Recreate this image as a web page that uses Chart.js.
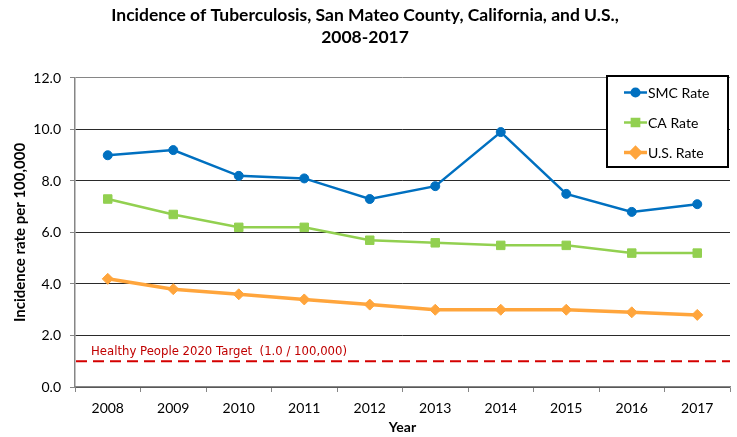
<!DOCTYPE html>
<html>
<head>
<meta charset="utf-8">
<script src="https://cdn.jsdelivr.net/npm/chart.js@4.4.0/dist/chart.umd.min.js"></script>
<style>
  html, body { margin: 0; padding: 0; background: #fff; }
</style>
</head>
<body>
<canvas id="tbChart" width="737" height="437"></canvas>
<script>
// Data
const years = ['2008', '2009', '2010', '2011', '2012', '2013', '2014', '2015', '2016', '2017'];
const smcRate = [9.0, 9.2, 8.2, 8.1, 7.3, 7.8, 9.9, 7.5, 6.8, 7.1];
const caRate = [7.3, 6.7, 6.2, 6.2, 5.7, 5.6, 5.5, 5.5, 5.2, 5.2];
const usRate = [4.2, 3.8, 3.6, 3.4, 3.2, 3.0, 3.0, 3.0, 2.9, 2.8];
const yTicks = [0, 2, 4, 6, 8, 10, 12];
const targetRate = 1.0;
const targetLabel = 'Healthy People 2020 Target  (1.0 / 100,000)';

const FONT = 'Lato, "Open Sans", sans-serif';

// Red dashed target line with its label
const targetLine = {
    id: 'targetLine',
    beforeDatasetsDraw(chart) {
        const { ctx, chartArea } = chart;
        const y = chart.scales.y.getPixelForValue(targetRate);
        ctx.save();
        ctx.strokeStyle = '#d40000';
        ctx.lineWidth = 2;
        ctx.setLineDash([11, 6]);
        ctx.beginPath();
        ctx.moveTo(chartArea.left + 1, y);
        ctx.lineTo(chartArea.right, y);
        ctx.stroke();
        ctx.setLineDash([]);
        ctx.fillStyle = '#c00000';
        ctx.font = '11.7px "DejaVu Sans", sans-serif';
        ctx.textBaseline = 'middle';
        ctx.fillText(targetLabel, chartArea.left + 16, y - 9);
        ctx.restore();
    }
};

// Boxed legend sitting inside the plot area, top right
const boxLegend = {
    id: 'boxLegend',
    afterDraw(chart) {
        const { ctx } = chart;
        const x0 = 607, y0 = 76, w = 121, h = 91;
        ctx.save();
        ctx.fillStyle = '#fff';
        ctx.fillRect(x0, y0, w, h);
        ctx.strokeStyle = '#000';
        ctx.lineWidth = 2;
        ctx.strokeRect(x0, y0, w, h);
        ctx.font = '14px ' + FONT;
        ctx.textBaseline = 'middle';
        chart.data.datasets.forEach((ds, i) => {
            const cy = y0 + 16.5 + i * 30;
            ctx.strokeStyle = ds.borderColor;
            ctx.fillStyle = ds.backgroundColor;
            ctx.lineWidth = ds.borderWidth;
            ctx.beginPath();
            ctx.moveTo(x0 + 17, cy);
            ctx.lineTo(x0 + 40, cy);
            ctx.stroke();
            Chart.helpers.drawPoint(ctx, {
                pointStyle: ds.pointStyle,
                radius: ds.pointRadius * 0.85,
                rotation: 0,
                borderWidth: 1
            }, x0 + 28.5, cy);
            ctx.fillStyle = '#000';
            ctx.fillText(ds.label, x0 + 41, cy + 1);
        });
        ctx.restore();
    }
};

new Chart(document.getElementById('tbChart'), {
    type: 'line',
    data: {
        labels: years,
        datasets: [{
            label: 'SMC Rate',
            data: smcRate,
            borderColor: '#0070c0',
            backgroundColor: '#0070c0',
            borderWidth: 2.5,
            pointStyle: 'circle',
            pointRadius: 4.5,
            pointBorderWidth: 1
        }, {
            label: 'CA Rate',
            data: caRate,
            borderColor: '#92d050',
            backgroundColor: '#92d050',
            borderWidth: 2.5,
            pointStyle: 'rect',
            pointRadius: 6,
            pointBorderWidth: 1
        }, {
            label: 'U.S. Rate',
            data: usRate,
            borderColor: '#ffa53c',
            backgroundColor: '#ffa53c',
            borderWidth: 3.5,
            pointStyle: 'rectRot',
            pointRadius: 5.5,
            pointBorderWidth: 1
        }]
    },
    options: {
        responsive: false,
        animation: false,
        layout: { padding: { left: 0, right: 7, top: 0, bottom: 0 } },
        plugins: {
            legend: { display: false },
            tooltip: { enabled: false },
            title: {
                display: true,
                text: ['Incidence of Tuberculosis, San Mateo County, California, and U.S.,', '2008-2017'],
                color: '#000',
                font: { family: FONT, size: 17.5, weight: 'bold', lineHeight: 1.257 },
                padding: { top: 4, bottom: 30 }
            }
        },
        scales: {
            x: {
                offset: true,
                afterFit(scale) { scale.height = 50; },
                grid: {
                    offset: true,
                    drawOnChartArea: false,
                    tickLength: 5,
                    color: '#868686'
                },
                border: { color: '#868686', width: 1.5 },
                ticks: { color: '#000', font: { family: FONT, size: 14 }, padding: 8 },
                title: {
                    display: true,
                    text: 'Year',
                    color: '#000',
                    font: { family: FONT, size: 14, weight: 'bold' },
                    padding: { top: 0, bottom: 1 }
                }
            },
            y: {
                min: 0,
                max: 12,
                afterFit(scale) { scale.width = 75; },
                afterBuildTicks(scale) { scale.ticks = yTicks.map(v => ({ value: v })); },
                grid: {
                    color: ctx => ctx.tick && ctx.tick.value === 12 ? '#868686' : '#2a2a2a',
                    tickColor: '#868686',
                    tickLength: 5
                },
                border: { color: '#868686', width: 1.5 },
                ticks: {
                    color: '#000',
                    font: { family: FONT, size: 14 },
                    padding: 9,
                    callback: v => Number(v).toFixed(1)
                },
                title: {
                    display: true,
                    text: 'Incidence rate per 100,000',
                    color: '#000',
                    font: { family: FONT, size: 15, weight: 'bold' },
                    padding: { top: 11, bottom: 0 }
                }
            }
        }
    },
    plugins: [targetLine, boxLegend]
});
</script>
</body>
</html>
